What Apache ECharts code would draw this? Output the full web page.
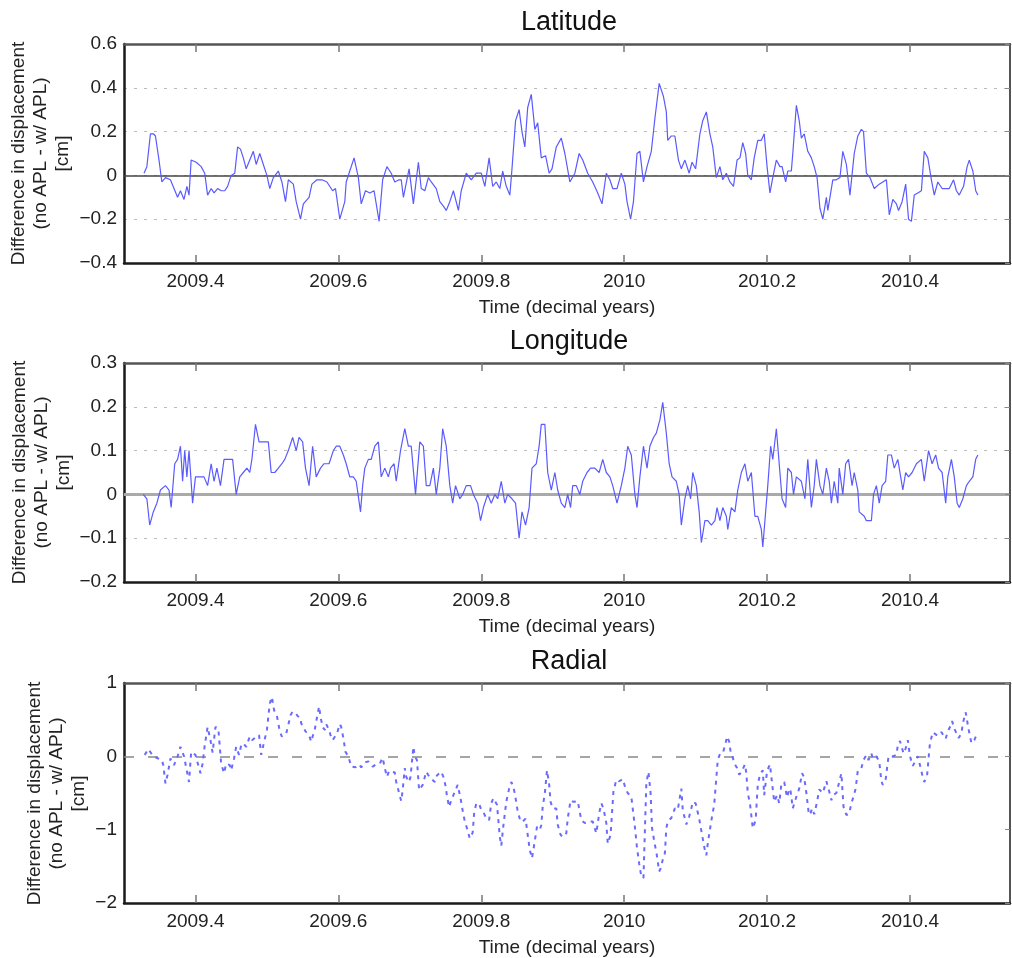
<!DOCTYPE html>
<html><head><meta charset="utf-8">
<script src="https://cdn.jsdelivr.net/npm/echarts@6/dist/echarts.min.js"></script>
<style>html,body{margin:0;padding:0;background:#fff}#c{width:1012px;height:958px}</style>
</head><body><div id="c"></div>
<script>
const titles = ['Latitude', 'Longitude', 'Radial'];
const yNameLines = 'Difference in displacement\n(no APL - w/ APL)\n[cm]';
const xName = 'Time (decimal years)';
const xTickValues = [2009.4, 2009.6, 2009.8, 2010, 2010.2, 2010.4];
const xTickLabels = ['2009.4', '2009.6', '2009.8', '2010', '2010.2', '2010.4'];
const yRanges = [[-0.4, 0.6, 0.2], [-0.2, 0.3, 0.1], [-2, 1, 1]];

const latData = [[2009.328,0.01],[2009.332,0.04],[2009.337,0.19],[2009.341,0.19],[2009.344,0.18],[2009.349,0.07],[2009.353,-0.03],[2009.358,-0.01],[2009.365,-0.02],[2009.370,-0.06],[2009.375,-0.10],[2009.379,-0.07],[2009.384,-0.11],[2009.388,-0.05],[2009.391,-0.09],[2009.394,0.07],[2009.401,0.06],[2009.408,0.04],[2009.413,0.01],[2009.417,-0.09],[2009.422,-0.06],[2009.426,-0.08],[2009.431,-0.06],[2009.436,-0.07],[2009.441,-0.07],[2009.445,-0.05],[2009.450,0.00],[2009.455,0.01],[2009.459,0.13],[2009.463,0.12],[2009.467,0.08],[2009.471,0.03],[2009.476,0.07],[2009.481,0.11],[2009.485,0.05],[2009.490,0.10],[2009.495,0.05],[2009.500,0.00],[2009.504,-0.06],[2009.509,-0.01],[2009.516,0.02],[2009.521,-0.03],[2009.526,-0.12],[2009.530,-0.02],[2009.537,-0.04],[2009.541,-0.12],[2009.547,-0.20],[2009.551,-0.13],[2009.559,-0.10],[2009.563,-0.04],[2009.570,-0.02],[2009.577,-0.02],[2009.584,-0.03],[2009.592,-0.07],[2009.596,-0.06],[2009.602,-0.20],[2009.609,-0.12],[2009.611,-0.03],[2009.616,0.02],[2009.622,0.08],[2009.628,-0.01],[2009.632,-0.13],[2009.638,-0.07],[2009.644,-0.08],[2009.650,-0.07],[2009.657,-0.21],[2009.662,-0.02],[2009.668,0.04],[2009.674,0.01],[2009.679,-0.03],[2009.685,-0.02],[2009.688,-0.02],[2009.691,-0.10],[2009.699,0.03],[2009.705,-0.13],[2009.712,0.06],[2009.716,-0.06],[2009.721,-0.07],[2009.726,-0.01],[2009.730,-0.03],[2009.737,-0.06],[2009.742,-0.12],[2009.747,-0.14],[2009.751,-0.16],[2009.756,-0.12],[2009.761,-0.07],[2009.768,-0.16],[2009.772,-0.07],[2009.779,0.01],[2009.786,-0.02],[2009.793,0.01],[2009.800,0.01],[2009.805,-0.05],[2009.811,0.08],[2009.816,-0.05],[2009.821,-0.03],[2009.826,-0.06],[2009.830,0.02],[2009.835,-0.05],[2009.840,-0.09],[2009.843,0.03],[2009.848,0.25],[2009.853,0.30],[2009.857,0.20],[2009.861,0.13],[2009.865,0.31],[2009.870,0.37],[2009.875,0.21],[2009.879,0.24],[2009.884,0.08],[2009.890,0.09],[2009.895,0.01],[2009.899,0.03],[2009.905,0.13],[2009.912,0.17],[2009.917,0.10],[2009.924,-0.03],[2009.931,0.01],[2009.937,0.10],[2009.942,0.07],[2009.949,0.01],[2009.956,-0.03],[2009.963,-0.08],[2009.969,-0.13],[2009.975,0.01],[2009.980,-0.02],[2009.984,-0.06],[2009.990,-0.06],[2009.996,0.01],[2010.001,-0.04],[2010.004,-0.12],[2010.009,-0.20],[2010.013,-0.12],[2010.018,0.10],[2010.022,0.11],[2010.027,-0.03],[2010.032,0.04],[2010.038,0.11],[2010.043,0.26],[2010.049,0.42],[2010.055,0.36],[2010.059,0.29],[2010.061,0.16],[2010.066,0.18],[2010.071,0.18],[2010.076,0.07],[2010.080,0.03],[2010.085,0.07],[2010.091,0.01],[2010.095,0.06],[2010.100,0.03],[2010.106,0.19],[2010.110,0.25],[2010.115,0.29],[2010.120,0.19],[2010.124,0.13],[2010.129,-0.01],[2010.134,0.04],[2010.138,-0.02],[2010.143,0.01],[2010.148,-0.03],[2010.153,-0.05],[2010.158,0.07],[2010.162,0.08],[2010.166,0.15],[2010.170,0.10],[2010.173,0.00],[2010.178,-0.02],[2010.182,0.08],[2010.187,0.16],[2010.192,0.16],[2010.196,0.19],[2010.200,0.04],[2010.204,-0.08],[2010.208,-0.01],[2010.213,0.07],[2010.218,0.04],[2010.221,0.04],[2010.226,-0.03],[2010.229,0.02],[2010.234,0.02],[2010.236,0.10],[2010.241,0.32],[2010.245,0.25],[2010.248,0.17],[2010.252,0.19],[2010.257,0.11],[2010.262,0.08],[2010.266,0.04],[2010.270,-0.01],[2010.274,-0.15],[2010.278,-0.20],[2010.283,-0.10],[2010.285,-0.16],[2010.288,-0.10],[2010.292,-0.02],[2010.297,-0.02],[2010.302,-0.01],[2010.306,0.11],[2010.311,0.05],[2010.316,-0.09],[2010.322,0.10],[2010.327,0.18],[2010.332,0.21],[2010.335,0.20],[2010.339,0.01],[2010.344,-0.01],[2010.350,-0.06],[2010.357,-0.04],[2010.362,-0.03],[2010.367,-0.02],[2010.371,-0.18],[2010.376,-0.11],[2010.381,-0.13],[2010.384,-0.16],[2010.389,-0.12],[2010.394,-0.04],[2010.398,-0.20],[2010.402,-0.21],[2010.406,-0.09],[2010.411,-0.08],[2010.416,-0.07],[2010.420,0.11],[2010.425,0.08],[2010.430,-0.02],[2010.434,-0.09],[2010.439,-0.03],[2010.445,-0.06],[2010.451,-0.06],[2010.455,-0.06],[2010.461,-0.02],[2010.465,-0.07],[2010.469,-0.09],[2010.475,-0.05],[2010.480,0.04],[2010.483,0.07],[2010.488,0.02],[2010.492,-0.07],[2010.495,-0.09]];

const lonData = [[2009.327,0.00],[2009.332,-0.01],[2009.336,-0.07],[2009.341,-0.04],[2009.346,-0.02],[2009.351,0.01],[2009.358,0.02],[2009.363,0.01],[2009.366,-0.03],[2009.371,0.07],[2009.375,0.08],[2009.379,0.11],[2009.382,0.03],[2009.385,0.10],[2009.388,0.04],[2009.391,0.10],[2009.396,-0.02],[2009.400,0.04],[2009.407,0.04],[2009.412,0.04],[2009.417,0.02],[2009.422,0.07],[2009.426,0.03],[2009.430,0.06],[2009.435,0.02],[2009.440,0.08],[2009.445,0.08],[2009.452,0.08],[2009.457,0.00],[2009.462,0.04],[2009.467,0.05],[2009.472,0.06],[2009.476,0.05],[2009.479,0.08],[2009.484,0.16],[2009.489,0.12],[2009.492,0.12],[2009.497,0.12],[2009.502,0.12],[2009.506,0.05],[2009.511,0.05],[2009.516,0.06],[2009.521,0.07],[2009.525,0.08],[2009.530,0.10],[2009.536,0.13],[2009.541,0.10],[2009.545,0.13],[2009.550,0.12],[2009.554,0.06],[2009.559,0.02],[2009.564,0.11],[2009.569,0.04],[2009.575,0.06],[2009.580,0.07],[2009.587,0.07],[2009.593,0.10],[2009.597,0.11],[2009.602,0.11],[2009.607,0.09],[2009.611,0.07],[2009.616,0.04],[2009.621,0.04],[2009.625,0.03],[2009.631,-0.04],[2009.634,0.02],[2009.637,0.06],[2009.642,0.08],[2009.646,0.08],[2009.651,0.11],[2009.656,0.12],[2009.660,0.04],[2009.665,0.06],[2009.670,0.04],[2009.673,0.06],[2009.678,0.07],[2009.681,0.03],[2009.687,0.10],[2009.693,0.15],[2009.698,0.11],[2009.702,0.11],[2009.708,0.00],[2009.714,0.12],[2009.719,0.11],[2009.723,0.02],[2009.728,0.02],[2009.733,0.06],[2009.737,0.00],[2009.742,0.06],[2009.746,0.15],[2009.751,0.11],[2009.756,0.02],[2009.760,-0.02],[2009.764,0.02],[2009.770,-0.01],[2009.774,0.00],[2009.779,0.02],[2009.785,0.02],[2009.789,0.00],[2009.795,-0.02],[2009.799,-0.06],[2009.803,-0.03],[2009.809,0.00],[2009.814,-0.02],[2009.819,0.00],[2009.823,-0.01],[2009.828,0.03],[2009.833,-0.02],[2009.837,0.00],[2009.843,-0.01],[2009.848,-0.02],[2009.853,-0.10],[2009.857,-0.04],[2009.862,-0.07],[2009.867,-0.03],[2009.871,0.06],[2009.877,0.07],[2009.881,0.11],[2009.884,0.16],[2009.889,0.16],[2009.893,0.05],[2009.898,0.01],[2009.903,0.05],[2009.907,0.01],[2009.912,-0.02],[2009.917,-0.03],[2009.921,0.00],[2009.925,-0.03],[2009.928,0.02],[2009.933,0.02],[2009.938,0.00],[2009.942,0.03],[2009.948,0.05],[2009.953,0.06],[2009.959,0.06],[2009.965,0.05],[2009.970,0.08],[2009.975,0.05],[2009.980,0.04],[2009.984,0.02],[2009.990,-0.02],[2009.996,0.02],[2010.001,0.06],[2010.005,0.11],[2010.010,0.09],[2010.015,0.00],[2010.018,-0.03],[2010.022,0.04],[2010.027,0.11],[2010.032,0.06],[2010.036,0.11],[2010.041,0.13],[2010.045,0.14],[2010.050,0.17],[2010.054,0.21],[2010.059,0.14],[2010.063,0.07],[2010.067,0.04],[2010.073,0.03],[2010.077,0.00],[2010.080,-0.07],[2010.085,-0.01],[2010.089,0.02],[2010.093,-0.01],[2010.096,0.05],[2010.101,0.02],[2010.105,-0.04],[2010.108,-0.11],[2010.113,-0.06],[2010.117,-0.06],[2010.122,-0.07],[2010.127,-0.06],[2010.130,-0.03],[2010.134,-0.06],[2010.138,-0.03],[2010.143,-0.05],[2010.145,-0.08],[2010.150,-0.03],[2010.155,-0.04],[2010.159,0.01],[2010.164,0.05],[2010.169,0.07],[2010.173,0.03],[2010.178,0.05],[2010.183,-0.05],[2010.187,-0.05],[2010.192,-0.08],[2010.194,-0.12],[2010.198,-0.04],[2010.201,0.02],[2010.205,0.11],[2010.208,0.08],[2010.213,0.15],[2010.218,0.05],[2010.221,-0.01],[2010.226,-0.03],[2010.229,0.06],[2010.234,0.05],[2010.237,0.00],[2010.241,0.04],[2010.248,0.03],[2010.253,-0.01],[2010.257,0.08],[2010.262,-0.03],[2010.266,0.02],[2010.269,0.08],[2010.274,0.02],[2010.278,0.00],[2010.283,0.06],[2010.287,0.03],[2010.290,-0.02],[2010.294,0.03],[2010.299,-0.02],[2010.301,0.06],[2010.306,0.00],[2010.310,0.07],[2010.314,0.08],[2010.319,0.02],[2010.322,0.05],[2010.327,0.01],[2010.329,-0.04],[2010.336,-0.05],[2010.339,-0.06],[2010.346,-0.06],[2010.349,0.00],[2010.353,0.02],[2010.357,-0.02],[2010.361,0.02],[2010.366,0.03],[2010.369,0.09],[2010.374,0.09],[2010.378,0.06],[2010.383,0.08],[2010.390,0.01],[2010.394,0.05],[2010.398,0.04],[2010.403,0.05],[2010.409,0.07],[2010.416,0.08],[2010.420,0.03],[2010.426,0.10],[2010.431,0.07],[2010.436,0.09],[2010.440,0.06],[2010.445,0.05],[2010.450,-0.02],[2010.453,0.04],[2010.458,0.08],[2010.462,0.04],[2010.466,-0.02],[2010.469,-0.03],[2010.474,-0.01],[2010.479,0.02],[2010.483,0.03],[2010.488,0.04],[2010.492,0.08],[2010.495,0.09]];

const radData = [[2009.329,0.02],[2009.334,0.10],[2009.341,0.00],[2009.348,-0.03],[2009.353,-0.05],[2009.355,-0.12],[2009.358,-0.37],[2009.361,-0.25],[2009.365,-0.03],[2009.370,-0.12],[2009.375,0.00],[2009.379,0.13],[2009.384,0.00],[2009.389,-0.25],[2009.391,-0.35],[2009.394,0.06],[2009.400,0.02],[2009.407,-0.23],[2009.410,-0.10],[2009.413,0.15],[2009.417,0.40],[2009.421,0.22],[2009.424,0.05],[2009.428,0.40],[2009.432,0.38],[2009.436,-0.10],[2009.440,-0.23],[2009.443,-0.10],[2009.448,-0.12],[2009.450,-0.19],[2009.454,-0.03],[2009.457,0.13],[2009.461,0.02],[2009.464,0.15],[2009.467,0.18],[2009.471,0.13],[2009.476,0.27],[2009.479,0.22],[2009.483,0.25],[2009.489,0.29],[2009.492,0.02],[2009.495,0.15],[2009.500,0.36],[2009.504,0.72],[2009.507,0.81],[2009.510,0.63],[2009.514,0.55],[2009.516,0.45],[2009.518,0.34],[2009.521,0.27],[2009.527,0.31],[2009.530,0.43],[2009.533,0.56],[2009.536,0.61],[2009.540,0.59],[2009.543,0.55],[2009.547,0.52],[2009.548,0.45],[2009.551,0.40],[2009.554,0.34],[2009.559,0.29],[2009.562,0.20],[2009.564,0.27],[2009.567,0.37],[2009.573,0.68],[2009.575,0.54],[2009.578,0.40],[2009.581,0.36],[2009.583,0.44],[2009.587,0.36],[2009.589,0.29],[2009.592,0.22],[2009.598,0.31],[2009.602,0.44],[2009.604,0.40],[2009.607,0.25],[2009.610,0.06],[2009.614,0.00],[2009.618,-0.14],[2009.624,-0.15],[2009.629,-0.11],[2009.632,-0.15],[2009.637,-0.08],[2009.642,-0.07],[2009.648,-0.14],[2009.653,-0.11],[2009.658,-0.10],[2009.662,-0.02],[2009.665,-0.16],[2009.668,-0.28],[2009.671,-0.20],[2009.679,-0.22],[2009.681,-0.35],[2009.685,-0.50],[2009.688,-0.61],[2009.690,-0.46],[2009.693,-0.16],[2009.695,-0.28],[2009.699,-0.35],[2009.701,-0.28],[2009.705,0.13],[2009.707,0.00],[2009.710,-0.05],[2009.713,-0.46],[2009.718,-0.39],[2009.723,-0.21],[2009.728,-0.29],[2009.735,-0.35],[2009.738,-0.26],[2009.744,-0.21],[2009.747,-0.28],[2009.750,-0.40],[2009.752,-0.54],[2009.755,-0.69],[2009.758,-0.60],[2009.767,-0.39],[2009.771,-0.57],[2009.774,-0.74],[2009.777,-0.89],[2009.780,-0.98],[2009.784,-1.12],[2009.788,-1.04],[2009.790,-0.78],[2009.793,-0.64],[2009.797,-0.65],[2009.800,-0.73],[2009.803,-0.76],[2009.807,-0.85],[2009.811,-0.87],[2009.814,-0.64],[2009.817,-0.57],[2009.822,-0.66],[2009.826,-1.10],[2009.828,-1.22],[2009.831,-0.94],[2009.835,-0.62],[2009.839,-0.44],[2009.842,-0.35],[2009.845,-0.41],[2009.848,-0.57],[2009.851,-0.75],[2009.855,-0.89],[2009.858,-0.89],[2009.862,-0.85],[2009.865,-1.07],[2009.868,-1.28],[2009.871,-1.39],[2009.875,-1.15],[2009.878,-0.96],[2009.882,-1.00],[2009.884,-0.94],[2009.886,-0.69],[2009.889,-0.50],[2009.892,-0.19],[2009.895,-0.38],[2009.897,-0.62],[2009.900,-0.71],[2009.905,-0.71],[2009.907,-0.93],[2009.911,-1.07],[2009.914,-1.10],[2009.919,-1.05],[2009.921,-0.85],[2009.925,-0.60],[2009.929,-0.62],[2009.935,-0.61],[2009.940,-0.87],[2009.945,-0.91],[2009.952,-0.89],[2009.956,-0.89],[2009.961,-1.05],[2009.965,-0.78],[2009.968,-0.64],[2009.971,-0.71],[2009.975,-0.91],[2009.977,-1.19],[2009.981,-1.07],[2009.985,-0.48],[2009.989,-0.32],[2009.993,-0.34],[2009.998,-0.31],[2010.002,-0.44],[2010.005,-0.50],[2010.010,-0.55],[2010.015,-0.96],[2010.018,-1.25],[2010.021,-1.46],[2010.024,-1.64],[2010.027,-1.66],[2010.031,-0.37],[2010.034,-0.21],[2010.037,-0.50],[2010.039,-0.98],[2010.043,-1.21],[2010.045,-1.30],[2010.049,-1.57],[2010.051,-1.53],[2010.054,-1.41],[2010.057,-1.32],[2010.059,-0.98],[2010.061,-0.89],[2010.066,-0.84],[2010.071,-0.71],[2010.075,-0.73],[2010.080,-0.44],[2010.082,-0.73],[2010.087,-0.93],[2010.091,-0.82],[2010.094,-0.71],[2010.096,-0.62],[2010.100,-0.64],[2010.105,-0.85],[2010.107,-0.87],[2010.109,-1.07],[2010.113,-1.28],[2010.115,-1.35],[2010.117,-1.19],[2010.120,-1.00],[2010.123,-0.82],[2010.126,-0.66],[2010.131,-0.05],[2010.134,0.03],[2010.138,0.04],[2010.142,0.18],[2010.144,0.27],[2010.147,0.20],[2010.149,0.06],[2010.152,-0.02],[2010.155,-0.11],[2010.158,-0.16],[2010.161,-0.25],[2010.164,-0.22],[2010.169,-0.11],[2010.171,-0.23],[2010.173,-0.50],[2010.176,-0.64],[2010.180,-0.98],[2010.184,-0.87],[2010.187,-0.39],[2010.190,-0.25],[2010.194,-0.19],[2010.196,-0.53],[2010.200,-0.20],[2010.204,-0.11],[2010.210,-0.62],[2010.214,-0.53],[2010.217,-0.64],[2010.220,-0.38],[2010.224,-0.35],[2010.228,-0.56],[2010.231,-0.44],[2010.233,-0.48],[2010.236,-0.71],[2010.241,-0.55],[2010.245,-0.44],[2010.249,-0.23],[2010.252,-0.29],[2010.255,-0.50],[2010.258,-0.75],[2010.260,-0.80],[2010.263,-0.71],[2010.266,-0.79],[2010.270,-0.62],[2010.273,-0.45],[2010.278,-0.50],[2010.283,-0.34],[2010.287,-0.48],[2010.290,-0.60],[2010.292,-0.53],[2010.297,-0.50],[2010.301,-0.35],[2010.304,-0.23],[2010.307,-0.69],[2010.311,-0.80],[2010.315,-0.78],[2010.318,-0.64],[2010.321,-0.55],[2010.324,-0.44],[2010.327,-0.19],[2010.332,-0.16],[2010.335,-0.05],[2010.339,0.02],[2010.342,-0.05],[2010.346,0.04],[2010.348,-0.03],[2010.353,0.00],[2010.357,-0.07],[2010.360,-0.34],[2010.362,-0.39],[2010.366,-0.31],[2010.370,0.00],[2010.376,0.00],[2010.381,0.02],[2010.383,0.15],[2010.386,0.21],[2010.391,0.04],[2010.394,0.11],[2010.397,0.22],[2010.400,0.00],[2010.404,-0.13],[2010.411,0.00],[2010.416,-0.20],[2010.418,-0.29],[2010.420,-0.35],[2010.424,-0.26],[2010.426,-0.03],[2010.428,0.18],[2010.432,0.33],[2010.436,0.30],[2010.439,0.28],[2010.444,0.33],[2010.450,0.24],[2010.453,0.34],[2010.456,0.40],[2010.459,0.48],[2010.462,0.38],[2010.468,0.25],[2010.472,0.31],[2010.474,0.45],[2010.478,0.60],[2010.480,0.61],[2010.482,0.37],[2010.486,0.18],[2010.490,0.22],[2010.493,0.29]];

const seriesData = [latData, lonData, radData];

const FONT = '"Liberation Sans", Arial, Helvetica, sans-serif';
const gridTops = [44, 363, 683];
const gridHeights = [219, 219, 221];
const yNameX = [41, 42, 57];

function fmtY(v) {
  const r = Math.round(v * 10) / 10;
  if (r === 0) return '0';
  return r < 0 ? '\u2212' + String(Math.abs(r)) : String(r);
}
function fmtX(v) {
  let best = 0, bd = Infinity;
  xTickValues.forEach((t, i) => { const d = Math.abs(t - v); if (d < bd) { bd = d; best = i; } });
  return xTickLabels[best];
}

const grid = [], xAxis = [], yAxis = [], series = [], title = [], graphic = [];
for (let i = 0; i < 3; i++) {
  const r = yRanges[i];
  grid.push({ left: 124, right: 2, top: gridTops[i], height: gridHeights[i], show: false });
  xAxis.push({ type: 'value', gridIndex: i, min: 2009.3, max: 2010.54, position: 'bottom', z: 5,
    name: xName, nameLocation: 'middle', nameGap: 35,
    nameTextStyle: { fontFamily: FONT, fontSize: 19, color: '#222' },
    axisLine: { show: true, onZero: false, lineStyle: { color: '#1a1a1a', width: 2.5 } },
    axisTick: { show: true, inside: true, length: 8, customValues: xTickValues, lineStyle: { color: '#777', width: 1.5 } },
    axisLabel: { show: true, customValues: xTickValues, formatter: fmtX, margin: 9,
      fontFamily: FONT, fontSize: 19, color: '#222' },
    splitLine: { show: false } });
  xAxis.push({ type: 'value', gridIndex: i, min: 2009.3, max: 2010.54, position: 'top', z: 5,
    axisLine: { show: true, onZero: false, lineStyle: { color: '#555', width: 2.5 } },
    axisTick: { show: true, inside: true, length: 8, customValues: xTickValues, lineStyle: { color: '#777', width: 1.5 } },
    axisLabel: { show: false }, splitLine: { show: false } });
  yAxis.push({ type: 'value', gridIndex: i, min: r[0], max: r[1], interval: r[2], position: 'left', z: 0,
    axisLine: { show: true, onZero: false, lineStyle: { color: '#1a1a1a', width: 2.5 } },
    axisTick: { show: false },
    axisLabel: { formatter: fmtY, margin: 7, fontFamily: FONT, fontSize: 19, color: '#222' },
    splitLine: { show: i < 2, lineStyle: { color: '#bbb', type: [3, 7], width: 1.2 } } });
  yAxis.push({ type: 'value', gridIndex: i, min: r[0], max: r[1], interval: r[2], position: 'right', z: 5,
    axisLine: { show: true, onZero: false, lineStyle: { color: '#555', width: 2 } },
    axisTick: { show: true, inside: true, length: 5, lineStyle: { color: '#888' } },
    axisLabel: { show: false }, splitLine: { show: false } });
  const zeroStyle = i === 0 ? { color: '#444', width: 1.5, type: 'solid' }
    : (i === 1 ? { color: '#aaa', width: 3, type: 'solid' } : { color: '#888', width: 1.5, type: [10, 14] });
  series.push({ type: 'line', xAxisIndex: 2 * i, yAxisIndex: 2 * i, data: seriesData[i],
    showSymbol: false, symbol: 'none', animation: false, z: 3,
    lineStyle: i === 2 ? { color: '#6a6aff', width: 2, type: [4, 5] } : { color: '#5a5aff', width: 1.2 },
    markLine: { silent: true, symbol: 'none', label: { show: false }, animation: false,
      lineStyle: zeroStyle, data: [{ yAxis: 0 }], z: 2 } });
  title.push({ text: titles[i], left: 569, textAlign: 'center', top: gridTops[i] - 35, padding: 0,
    textStyle: { fontFamily: FONT, fontSize: 27, fontWeight: 'normal', color: '#111' } });
  graphic.push({ type: 'text', x: yNameX[i], y: gridTops[i] + gridHeights[i] / 2, rotation: Math.PI / 2,
    style: { text: yNameLines, fontFamily: FONT, fontSize: 19, lineHeight: 22, fill: '#222',
      align: 'center', verticalAlign: 'middle' } });
}

const chart = echarts.init(document.getElementById('c'), null, { renderer: 'canvas' });
chart.setOption({ animation: false, backgroundColor: '#fff', title, grid, xAxis, yAxis, series, graphic });
</script></body></html>
